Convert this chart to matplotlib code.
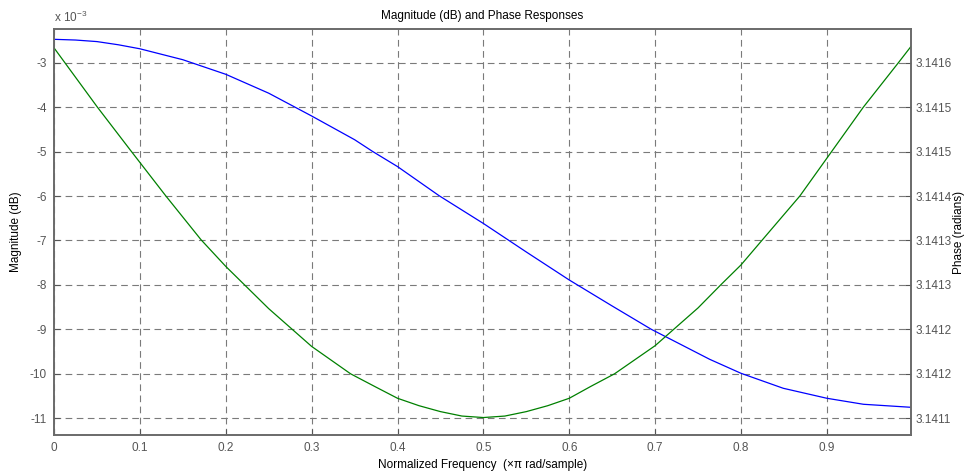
import numpy as np
import matplotlib
matplotlib.use('Agg')
from matplotlib import pyplot as plt
from matplotlib.ticker import FuncFormatter, FormatStrFormatter

plt.rcParams['font.family'] = ['Liberation Sans', 'DejaVu Sans']
plt.rcParams['mathtext.fontset'] = 'custom'
plt.rcParams['mathtext.rm'] = 'Liberation Sans'

# normalized frequency (x pi rad/sample) and magnitude in units of 1e-3 dB
mag_freq = [0.0, 0.025, 0.05, 0.075, 0.1, 0.15, 0.2, 0.25, 0.3, 0.35,
            0.3707, 0.4, 0.4484, 0.5, 0.55, 0.6, 0.65, 0.6955, 0.7635, 0.8,
            0.8492, 0.9, 0.9426, 0.998]
mag_e3 = [-2.474, -2.49, -2.525, -2.597, -2.687, -2.933, -3.261, -3.686,
          -4.199, -4.732, -4.993, -5.337, -5.992, -6.617, -7.259, -7.889,
          -8.474, -8.998, -9.673, -9.988, -10.325, -10.550, -10.685, -10.753]

# phase in radians
phase_freq = [0.0, 0.0505, 0.0902, 0.1303, 0.1712, 0.2, 0.25, 0.3, 0.3454,
              0.375, 0.4, 0.425, 0.45, 0.475, 0.5, 0.525, 0.55, 0.575, 0.6,
              0.625, 0.6527, 0.7, 0.75, 0.7772, 0.8, 0.825, 0.8685, 0.9055,
              0.9425, 0.9833, 0.998]
phase = [3.141600, 3.141520, 3.141460, 3.141400, 3.141341, 3.141305,
         3.141248, 3.141197, 3.141160, 3.141142, 3.141127, 3.141117,
         3.141109, 3.141103, 3.141101, 3.141103, 3.141109, 3.141117,
         3.141127, 3.141143, 3.141160, 3.141198, 3.141249, 3.141281,
         3.141307, 3.141341, 3.141400, 3.141460, 3.141520, 3.141580,
         3.141602]

mag_ticks_e3 = [-3, -4, -5, -6, -7, -8, -9, -10, -11]
freq_ticks = [0, 0.1, 0.2, 0.3, 0.4, 0.5, 0.6, 0.7, 0.8, 0.9]

# right axis is tied to the left one so the ticks line up
phase_top = 3.14158
phase_step = 0.00006


def mag_to_phase(v_e3):
    return phase_top + (np.asarray(v_e3) + 3) * phase_step


tick_gray = '#555555'
grid_gray = '#7a7a7a'

fig = plt.figure(figsize=(9.70, 4.74), dpi=100)
ax = fig.add_axes([0.0557, 0.0823, 0.8835, 0.8565])
ax2 = ax.twinx()

mag = np.array(mag_e3) * 1e-3
ax.plot(mag_freq, mag, color='#0000ff', lw=0.9)
ax2.plot(phase_freq, phase, color='#008000', lw=0.9)

ylim_e3 = (-11.376, -2.242)
ax.set_xlim(0, 0.998)
ax.set_ylim(ylim_e3[0] * 1e-3, ylim_e3[1] * 1e-3)
ax.set_xticks(freq_ticks)
ax.set_xticklabels(['%g' % t for t in freq_ticks])
ax.set_yticks(np.array(mag_ticks_e3) * 1e-3)
ax.yaxis.set_major_formatter(FuncFormatter(lambda v, p: '%g' % round(v * 1e3, 6)))

ax2.set_ylim(mag_to_phase(ylim_e3[0]), mag_to_phase(ylim_e3[1]))
ax2.set_yticks(mag_to_phase(mag_ticks_e3))
ax2.yaxis.set_major_formatter(FormatStrFormatter('%.4f'))

for a in (ax, ax2):
    for s in a.spines.values():
        s.set_color('#6a6a6a')
        s.set_linewidth(1.2)
    a.tick_params(direction='in', length=4, width=0.8, color='#555555',
                  labelcolor=tick_gray, labelsize=8.5, pad=5)
ax2.tick_params(pad=3)

ax.grid(True, color=grid_gray, lw=0.8, dashes=(6, 4))

ax.set_title('Magnitude (dB) and Phase Responses', fontsize=8.5, pad=7)
ax.set_xlabel('Normalized Frequency  (\u00d7\u03c0 rad/sample)', fontsize=8.5, labelpad=4)
ax.set_ylabel('Magnitude (dB)', fontsize=8.5, labelpad=6)
ax2.set_ylabel('Phase (radians)', fontsize=8.5, rotation=90, labelpad=1)

fig.text(0.0557, 0.953, r'x 10$^{-3}$', fontsize=8.5, color=tick_gray,
         ha='left', va='baseline')

fig.savefig('out.png', dpi=100)
